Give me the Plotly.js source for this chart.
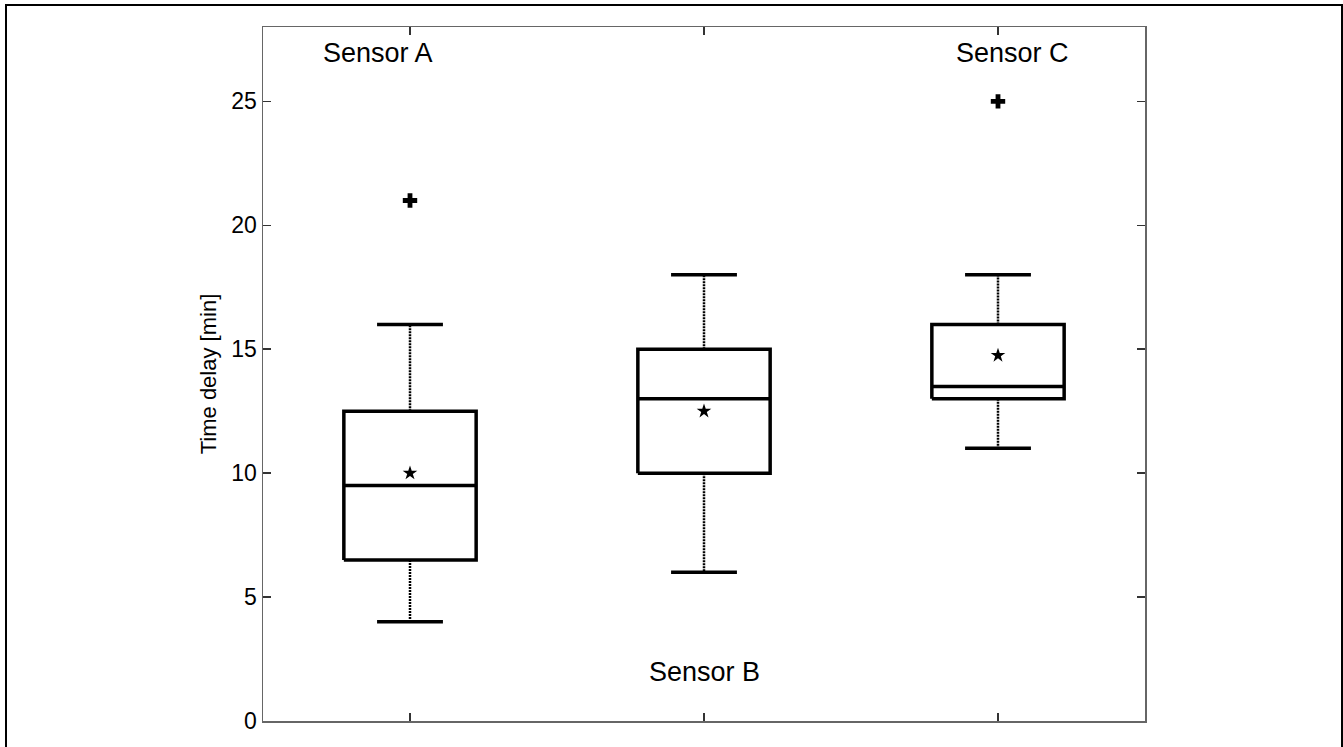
<!DOCTYPE html>
<html>
<head>
<meta charset="utf-8">
<script src="https://cdn.plot.ly/plotly-3.0.1.min.js"></script>
<style>
  html, body { margin: 0; padding: 0; background: #fff; }
  #chart { width: 1343px; height: 747px; }
  #frame { position: absolute; left: 5px; top: 4px; width: 1334px; height: 760px;
           border: 2px solid #000; border-bottom: none; pointer-events: none; }
</style>
</head>
<body>
<div id="chart"></div>
<div id="frame"></div>
<script>
// ---- data ----
const sensors      = ["Sensor A", "Sensor B", "Sensor C"];
const positions    = [1, 2, 3];
const lowerWhisker = [4, 6, 11];
const q1           = [6.5, 10, 13];
const medians      = [9.5, 13, 13.5];
const q3           = [12.5, 15, 16];
const upperWhisker = [16, 18, 18];
const means        = [10, 12.5, 14.75];
const outlierX     = [1, 3];
const outlierY     = [21, 25];
const yTicks       = [0, 5, 10, 15, 20, 25];

// ---- build geometry through data coordinates ----
const boxHalf = 0.225, capHalf = 0.112;
const boxX = [], boxY = [], medX = [], medY = [], whX = [], whY = [], capX = [], capY = [];
positions.forEach((c, i) => {
  boxX.push(c - boxHalf, c + boxHalf, c + boxHalf, c - boxHalf, c - boxHalf, null);
  boxY.push(q1[i], q1[i], q3[i], q3[i], q1[i], null);
  medX.push(c - boxHalf, c + boxHalf, null);
  medY.push(medians[i], medians[i], null);
  whX.push(c, c, null, c, c, null);
  whY.push(q1[i], lowerWhisker[i], null, q3[i], upperWhisker[i], null);
  capX.push(c - capHalf, c + capHalf, null, c - capHalf, c + capHalf, null);
  capY.push(lowerWhisker[i], lowerWhisker[i], null, upperWhisker[i], upperWhisker[i], null);
});

const traces = [
  { x: whX, y: whY, mode: "lines", line: { color: "#000", width: 2.5, dash: "2px,1px" }, hoverinfo: "skip" },
  { x: boxX, y: boxY, mode: "lines", line: { color: "#000", width: 3.5 }, hoverinfo: "skip" },
  { x: medX, y: medY, mode: "lines", line: { color: "#000", width: 3.5 }, hoverinfo: "skip" },
  { x: capX, y: capY, mode: "lines", line: { color: "#000", width: 3.5 }, hoverinfo: "skip" },
  { x: positions, y: means, mode: "markers", marker: { symbol: "star", size: 11, color: "#000" } },
  { x: outlierX, y: outlierY, mode: "markers", marker: { symbol: "cross", size: 12, color: "#000" } }
];

const labelX = [0.891, 2, 3.05];
const labelY = [26.95, 1.99, 26.95];
const annotations = sensors.map((s, i) => ({
  x: labelX[i], y: labelY[i], xref: "x", yref: "y", text: s, showarrow: false,
  xanchor: "center", yanchor: "middle",
  font: { family: "Liberation Sans, Arial, sans-serif", size: 27, color: "#000" }
}));

const layout = {
  width: 1343, height: 747,
  margin: { l: 263, r: 198, t: 27, b: 25.5 },
  paper_bgcolor: "#fff", plot_bgcolor: "#fff",
  showlegend: false,
  font: { family: "Liberation Sans, Arial, sans-serif", size: 23, color: "#000" },
  xaxis: {
    range: [0.5, 3.5], tickvals: positions, showticklabels: false,
    ticks: "inside", ticklen: 8, tickcolor: "#333", tickwidth: 1.5,
    showline: true, linecolor: "#666", linewidth: 1.5, mirror: "ticks",
    showgrid: false, zeroline: false, fixedrange: true
  },
  yaxis: {
    range: [0, 28], tickvals: yTicks, ticktext: yTicks.map(String),
    ticks: "inside", ticklen: 8, tickcolor: "#333", tickwidth: 1.5,
    showline: true, linecolor: "#666", linewidth: 1.5, mirror: "ticks",
    showgrid: false, zeroline: false, fixedrange: true,
    title: { text: "Time delay [min]", font: { size: 22 }, standoff: 8 }
  },
  annotations: annotations
};

Plotly.newPlot("chart", traces, layout, { displayModeBar: false, staticPlot: true });
</script>
</body>
</html>
